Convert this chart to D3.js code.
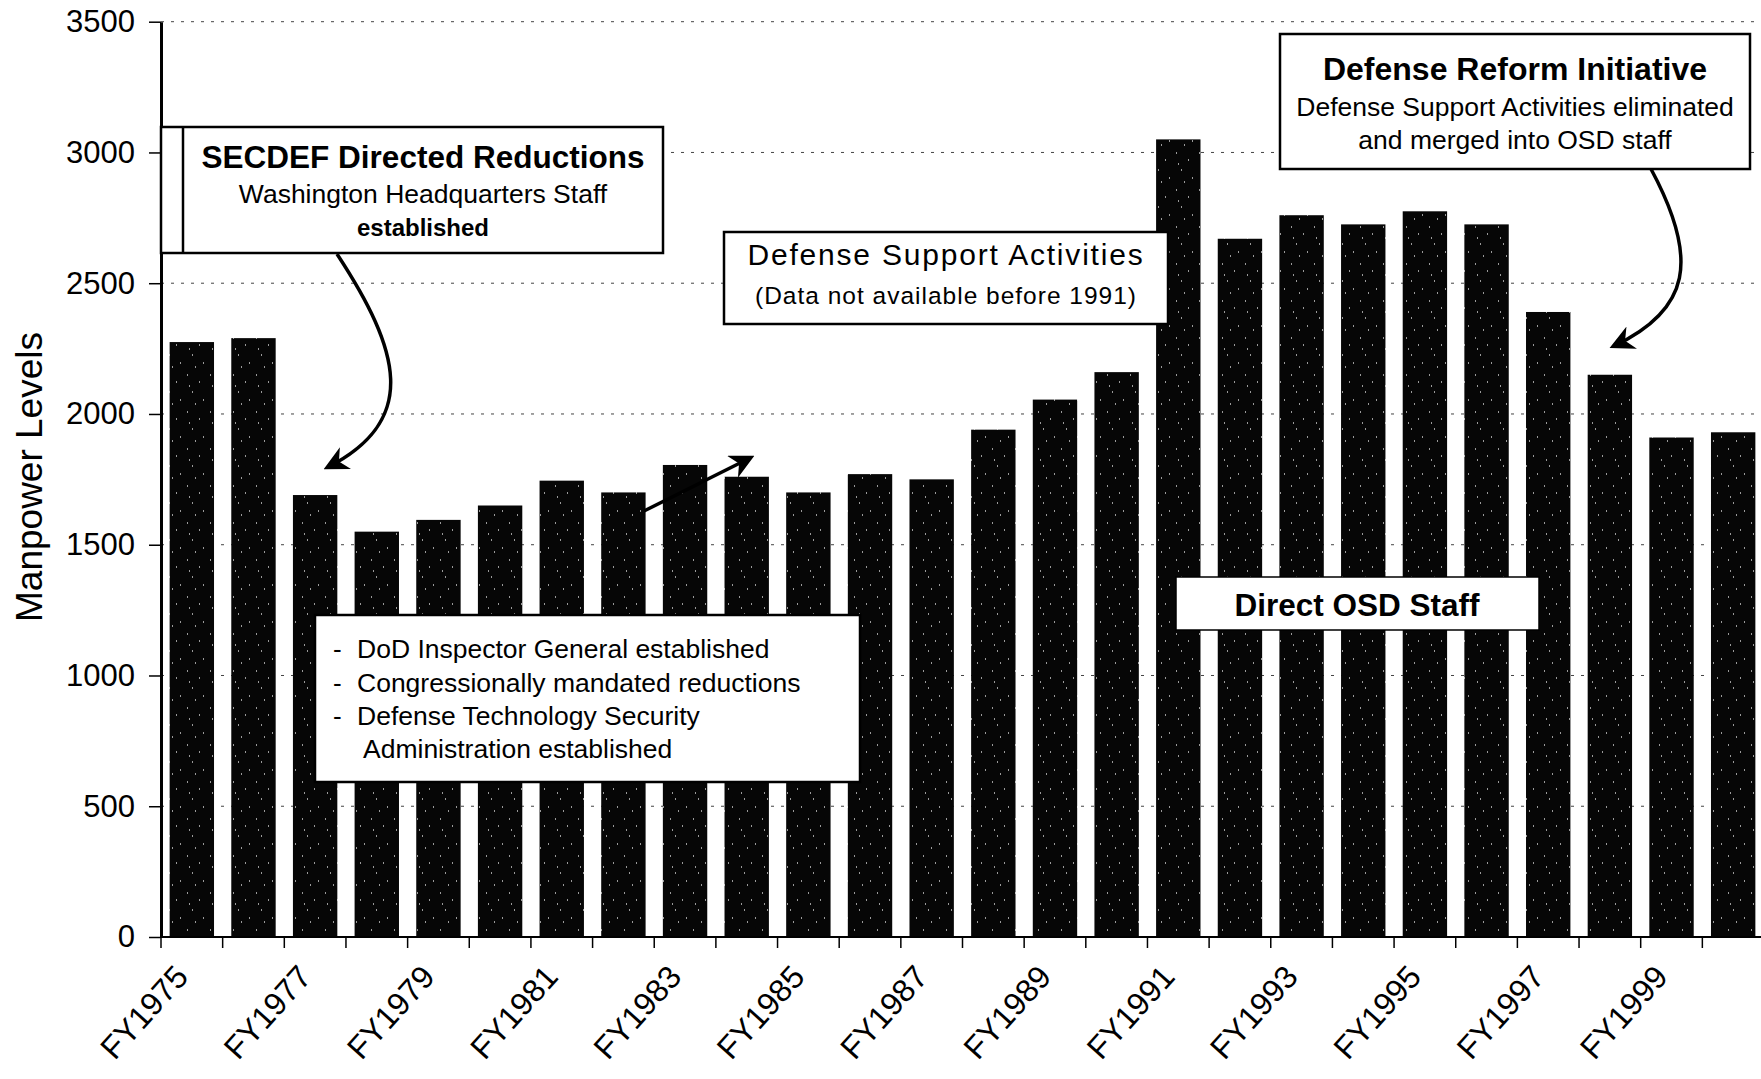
<!DOCTYPE html>
<html>
<head>
<meta charset="utf-8">
<script src="https://cdn.jsdelivr.net/npm/d3@7"></script>
<style>
  html, body { margin: 0; padding: 0; background: #fff; }
  svg { display: block; font-family: "Liberation Sans", Arial, sans-serif; }
</style>
</head>
<body>
<svg id="chart" width="1761" height="1079"></svg>
<script>
// OSD manpower levels by fiscal year
const years = ["FY1975","FY1976","FY1977","FY1978","FY1979","FY1980","FY1981","FY1982",
  "FY1983","FY1984","FY1985","FY1986","FY1987","FY1988","FY1989","FY1990","FY1991",
  "FY1992","FY1993","FY1994","FY1995","FY1996","FY1997","FY1998","FY1999","FY2000"];
const manpower = [2275, 2290, 1690, 1550, 1595, 1650, 1745, 1700,
  1805, 1760, 1700, 1770, 1750, 1940, 2055, 2160, 3050,
  2670, 2760, 2725, 2775, 2725, 2390, 2150, 1910, 1930];
const yTicks = [0, 500, 1000, 1500, 2000, 2500, 3000, 3500];
const xLabels = ["FY1975","FY1977","FY1979","FY1981","FY1983","FY1985","FY1987",
  "FY1989","FY1991","FY1993","FY1995","FY1997","FY1999"];

const svg = d3.select("#chart");
const W = 1761;

const x = d3.scaleBand().domain(years).range([161, 1764]).paddingInner(0.28).paddingOuter(0.14);
const y = d3.scaleLinear().domain([0, 3500]).range([937, 21.7]);

// speckled dark fill for the bars
const defs = svg.append("defs");
const pat = defs.append("pattern").attr("id", "speckle")
  .attr("patternUnits", "userSpaceOnUse").attr("width", 23).attr("height", 37);
pat.append("rect").attr("width", 23).attr("height", 37).attr("fill", "#060606");
[[3,4],[15,11],[8,21],[19,29],[11,33],[5,15]].forEach(([px, py]) => {
  pat.append("rect").attr("x", px).attr("y", py).attr("width", 1).attr("height", 2)
    .attr("fill", "#9a9a9a");
});

// arrow heads
defs.append("marker").attr("id", "head").attr("viewBox", "0 0 10 10")
  .attr("refX", 8).attr("refY", 5).attr("markerWidth", 7).attr("markerHeight", 7)
  .attr("markerUnits", "strokeWidth").attr("orient", "auto")
  .append("path").attr("d", "M0,0 L10,5 L0,10 L3,5 Z").attr("fill", "#000");

// gridlines
svg.append("g").selectAll("line").data(yTicks.filter(d => d > 0)).join("line")
  .attr("x1", 161).attr("x2", W)
  .attr("y1", d => y(d)).attr("y2", d => y(d))
  .attr("stroke", "#444").attr("stroke-width", 1)
  .attr("stroke-dasharray", "3,7");

// bars
svg.append("g").selectAll("rect").data(years).join("rect")
  .attr("x", d => x(d))
  .attr("width", x.bandwidth())
  .attr("y", (d, i) => y(manpower[i]))
  .attr("height", (d, i) => y(0) - y(manpower[i]))
  .attr("fill", "url(#speckle)");

// y axis
const yAxis = d3.axisLeft(y).tickValues(yTicks).tickFormat(d3.format("d"))
  .tickSize(12).tickPadding(14).tickSizeOuter(0);
const gy = svg.append("g").attr("transform", "translate(161,0)").call(yAxis);
gy.select(".domain").attr("stroke", "#000").attr("stroke-width", 3);
gy.selectAll(".tick line").attr("stroke", "#000").attr("stroke-width", 1.5);
gy.selectAll(".tick text").attr("font-size", 31).attr("fill", "#000")
  .attr("font-family", "'Liberation Sans', Arial, sans-serif");

// x axis baseline and category boundary ticks
const halfGap = (x.step() - x.bandwidth()) / 2;
svg.append("line").attr("x1", 161).attr("x2", W).attr("y1", y(0)).attr("y2", y(0))
  .attr("stroke", "#000").attr("stroke-width", 2);
svg.append("g").selectAll("line").data(years).join("line")
  .attr("x1", d => x(d) - halfGap).attr("x2", d => x(d) - halfGap)
  .attr("y1", y(0)).attr("y2", y(0) + 11)
  .attr("stroke", "#000").attr("stroke-width", 1.5);

// x tick labels
svg.append("g").selectAll("text").data(xLabels).join("text")
  .attr("transform", d => `translate(${x(d) + x.bandwidth() / 2 - 2},${y(0) + 41}) rotate(-48)`)
  .attr("text-anchor", "end")
  .attr("font-size", 32)
  .attr("fill", "#000")
  .text(d => d);

// y axis title
svg.append("text")
  .attr("transform", "translate(42,477) rotate(-90)")
  .attr("text-anchor", "middle")
  .attr("font-size", 37)
  .attr("fill", "#000")
  .text("Manpower Levels");

// annotation boxes
function box(x0, y0, w, h) {
  return svg.append("rect").attr("x", x0).attr("y", y0).attr("width", w).attr("height", h)
    .attr("fill", "#fff").attr("stroke", "#000").attr("stroke-width", 2.5);
}
function label(tx, ty, str, size, weight, anchor) {
  return svg.append("text").attr("x", tx).attr("y", ty)
    .attr("text-anchor", anchor || "middle")
    .attr("font-size", size).attr("font-weight", weight || "normal")
    .attr("fill", "#000").text(str);
}

// SECDEF box, flush against the value axis
box(161, 127, 502, 126);
svg.append("line").attr("x1", 183).attr("x2", 183).attr("y1", 127).attr("y2", 253)
  .attr("stroke", "#000").attr("stroke-width", 2.5);
label(423, 168, "SECDEF Directed Reductions", 31.5, "bold");
label(423, 203, "Washington Headquarters Staff", 26.5);
label(423, 236, "established", 24, "bold");

// Defense Support Activities box
box(724, 232, 444, 92);
label(946, 265, "Defense Support Activities", 30).attr("letter-spacing", 1.8);
label(946, 304, "(Data not available before 1991)", 24.5).attr("letter-spacing", 1);

// Defense Reform Initiative box
box(1280, 34, 470, 135);
label(1515, 80, "Defense Reform Initiative", 32, "bold");
label(1515, 116, "Defense Support Activities eliminated", 26.5);
label(1515, 149, "and merged into OSD staff", 26.5);

// mid-period events box
box(315, 615, 545, 167);
const bullets = [
  ["-", "DoD Inspector General established", 357, 658],
  ["-", "Congressionally mandated reductions", 357, 692],
  ["-", "Defense Technology Security", 357, 725],
  ["", "Administration established", 363, 758]
];
bullets.forEach(([b, t, tx, ty]) => {
  if (b) label(333, ty, b, 26, "normal", "start");
  label(tx, ty, t, 26.5, "normal", "start");
});

// Direct OSD Staff label
box(1176, 577, 363, 53).attr("stroke-width", 1.5);
label(1357, 616, "Direct OSD Staff", 31.5, "bold");

// arrows
svg.append("path")
  .attr("d", "M337,254 C400,350 420,420 328,467")
  .attr("fill", "none").attr("stroke", "#000").attr("stroke-width", 3.5)
  .attr("marker-end", "url(#head)");
svg.append("path")
  .attr("d", "M644,511 L750,458")
  .attr("fill", "none").attr("stroke", "#000").attr("stroke-width", 3.5)
  .attr("marker-end", "url(#head)");
svg.append("path")
  .attr("d", "M1651,169 C1700,260 1690,310 1614,346")
  .attr("fill", "none").attr("stroke", "#000").attr("stroke-width", 3.5)
  .attr("marker-end", "url(#head)");
</script>
</body>
</html>
